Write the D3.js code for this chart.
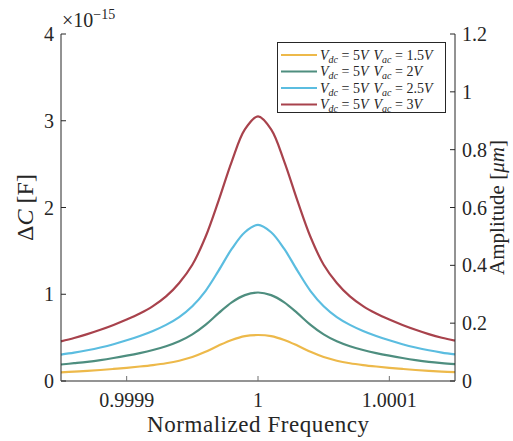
<!DOCTYPE html>
<html><head><meta charset="utf-8">
<script src="https://cdn.jsdelivr.net/npm/d3@7"></script>
<style>body{margin:0;background:#fff}text{font-family:"Liberation Serif","DejaVu Serif",serif;fill:#262626}</style>
</head><body><svg id="c" width="513" height="441"></svg>
<script>
const freq = [0.99985,0.99986,0.99987,0.99988,0.99989,0.9999,0.99991,0.99992,0.99993,0.99994,0.99995,0.99996,0.99997,0.99998,0.99999,1.0,
  1.00001,1.00002,1.00003,1.00004,1.00005,1.00006,1.00007,1.00008,1.00009,1.0001,1.00011,1.00012,1.00013,1.00014,1.00015];
const vac15 = [0.10,0.108,0.117,0.127,0.139,0.152,0.167,0.184,0.205,0.234,0.276,0.336,0.408,0.473,0.518,0.53,0.518,0.473,0.408,0.336,0.276,0.234,0.205,0.184,0.167,0.152,0.139,0.127,0.117,0.109,0.102];
const vac2 = [0.19,0.205,0.221,0.241,0.265,0.292,0.322,0.357,0.40,0.457,0.537,0.647,0.782,0.907,0.99,1.02,0.99,0.907,0.782,0.647,0.537,0.457,0.40,0.357,0.322,0.292,0.265,0.241,0.221,0.206,0.194];
const vac25 = [0.305,0.327,0.354,0.386,0.424,0.469,0.519,0.577,0.647,0.737,0.862,1.037,1.272,1.522,1.715,1.80,1.715,1.522,1.272,1.037,0.862,0.737,0.647,0.577,0.519,0.469,0.424,0.386,0.354,0.328,0.306];
const vac3 = [0.457,0.495,0.54,0.59,0.646,0.708,0.778,0.863,0.975,1.13,1.34,1.66,2.08,2.53,2.90,3.05,2.90,2.53,2.08,1.66,1.34,1.13,0.975,0.863,0.778,0.708,0.646,0.59,0.54,0.498,0.465];
const seriesNames = ["1.5","2","2.5","3"];
const seriesColors = ["#EDB94A","#4E8E7F","#5BBDE0","#A8424C"];
const xTicks = [0.9999,1,1.0001];
const xTickLabels = ["0.9999","1","1.0001"];
const yLeftTicks = [0,1,2,3,4];
const yRightTicks = [0,0.2,0.4,0.6,0.8,1,1.2];

const svg = d3.select("#c");
const L=61,R=455,T=34,B=381;
const x = d3.scaleLinear().domain([0.99985,1.00015]).range([L,R]);
const yL = d3.scaleLinear().domain([0,4]).range([B,T]);
const yR = d3.scaleLinear().domain([0,1.2]).range([B,T]);

const series=[vac15,vac2,vac25,vac3];
const line = d3.line().x((d,i)=>x(freq[i])).y(d=>yL(d)).curve(d3.curveCatmullRom.alpha(0.5));
series.forEach((s,k)=>{
  svg.append("path").attr("d",line(s)).attr("fill","none").attr("stroke",seriesColors[k]).attr("stroke-width",2.2);
});

svg.append("line").attr("x1",L).attr("x2",L).attr("y1",T).attr("y2",B).attr("stroke","#262626").attr("stroke-width",1);
svg.append("line").attr("x1",R).attr("x2",R).attr("y1",T).attr("y2",B).attr("stroke","#262626").attr("stroke-width",1);
svg.append("line").attr("x1",L).attr("x2",R).attr("y1",B).attr("y2",B).attr("stroke","#707070").attr("stroke-width",1.5);

const fs=20;
yLeftTicks.forEach(t=>{
  svg.append("line").attr("x1",L).attr("x2",L+5).attr("y1",yL(t)).attr("y2",yL(t)).attr("stroke","#262626");
  svg.append("text").attr("x",L-7).attr("y",yL(t)).attr("dy","0.35em").attr("text-anchor","end").attr("font-size",fs).text(t);
});
yRightTicks.forEach(t=>{
  svg.append("line").attr("x1",R).attr("x2",R-5).attr("y1",yR(t)).attr("y2",yR(t)).attr("stroke","#262626");
  svg.append("text").attr("x",R+7).attr("y",yR(t)).attr("dy","0.35em").attr("text-anchor","start").attr("font-size",fs).text(d3.format("~g")(t));
});
xTicks.forEach((t,i)=>{
  svg.append("line").attr("x1",x(t)).attr("x2",x(t)).attr("y1",B).attr("y2",B-5).attr("stroke","#707070");
  svg.append("text").attr("x",x(t)).attr("y",B+19).attr("dy","0.35em").attr("text-anchor","middle").attr("font-size",fs).text(xTickLabels[i]);
});
const ex = svg.append("text").attr("x",L+1).attr("y",27).attr("font-size",20);
ex.append("tspan").text("×10");
ex.append("tspan").attr("font-size",14).attr("dy",-8).text("−15");

svg.append("text").attr("x",(L+R)/2).attr("y",432).attr("text-anchor","middle").attr("font-size",23)
  .attr("textLength",222).attr("lengthAdjust","spacing").text("Normalized Frequency");
const yl = svg.append("text").attr("transform",`translate(33,${(T+B)/2}) rotate(-90)`).attr("text-anchor","middle").attr("font-size",24);
yl.append("tspan").text("Δ");
yl.append("tspan").attr("font-style","italic").text("C");
yl.append("tspan").text(" [F]");
const yr = svg.append("text").attr("transform",`translate(504,${(T+B)/2}) rotate(-90)`).attr("text-anchor","middle").attr("font-size",21);
yr.append("tspan").text("Amplitude [");
yr.append("tspan").attr("font-style","italic").text("μm");
yr.append("tspan").text("]");

const lg = svg.append("g");
lg.append("rect").attr("x",277.5).attr("y",42.5).attr("width",168).attr("height",70).attr("fill","#fff").attr("stroke","#262626").attr("stroke-width",1);
series.forEach((s,k)=>{
  const yy = 55+k*16.5;
  lg.append("line").attr("x1",281).attr("x2",317).attr("y1",yy).attr("y2",yy).attr("stroke",seriesColors[k]).attr("stroke-width",2.2);
  const t = lg.append("text").attr("x",320).attr("y",yy).attr("dy","0.35em").attr("font-size",14);
  t.append("tspan").attr("font-style","italic").text("V");
  t.append("tspan").attr("font-style","italic").attr("font-size",10).attr("dy",3).text("dc");
  t.append("tspan").attr("dy",-3).text(" = 5");
  t.append("tspan").attr("font-style","italic").text("V");
  t.append("tspan").attr("font-style","italic").attr("dx",5).text("V");
  t.append("tspan").attr("font-style","italic").attr("font-size",10).attr("dy",3).text("ac");
  t.append("tspan").attr("dy",-3).text(" = " + seriesNames[k]);
  t.append("tspan").attr("font-style","italic").text("V");
});
</script></body></html>
